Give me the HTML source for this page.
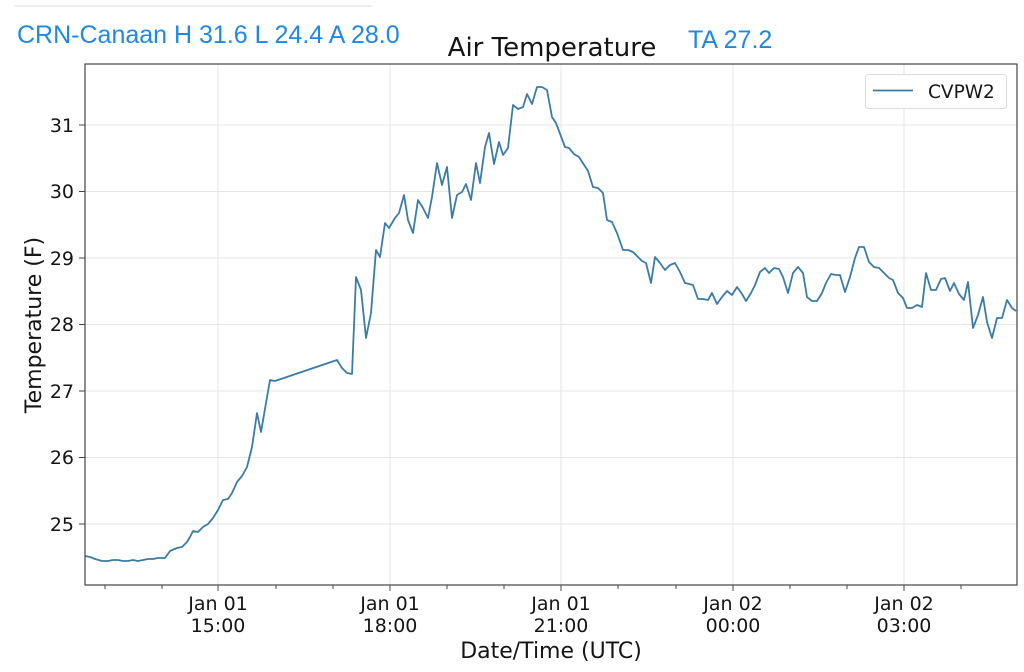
<!DOCTYPE html>
<html><head><meta charset="utf-8"><style>
html,body{margin:0;padding:0;background:#fff;width:1024px;height:672px;overflow:hidden}
svg{display:block}
text{font-family:"DejaVu Sans","Liberation Sans",sans-serif;fill:#151515}
</style></head><body>
<svg width="1024" height="672" viewBox="0 0 1024 672">
<line x1="14" y1="6" x2="373" y2="6" stroke="#eee" stroke-width="2"/>
<text x="17" y="43" style="fill:#1e88e5;font-family:'Liberation Sans',sans-serif" font-size="25">CRN-Canaan H 31.6 L 24.4 A 28.0</text>
<text x="688" y="48" style="fill:#1e88e5;font-family:'Liberation Sans',sans-serif" font-size="25">TA 27.2</text>
<text x="552" y="56" font-size="26" text-anchor="middle">Air Temperature</text>
<g stroke="#e6e6e6" stroke-width="1">
<line x1="218" y1="64" x2="218" y2="585"/><line x1="390" y1="64" x2="390" y2="585"/><line x1="561" y1="64" x2="561" y2="585"/><line x1="733" y1="64" x2="733" y2="585"/><line x1="904" y1="64" x2="904" y2="585"/>
<line x1="85" y1="125" x2="1017" y2="125"/><line x1="85" y1="191.5" x2="1017" y2="191.5"/><line x1="85" y1="258" x2="1017" y2="258"/><line x1="85" y1="324.5" x2="1017" y2="324.5"/><line x1="85" y1="391" x2="1017" y2="391"/><line x1="85" y1="457.5" x2="1017" y2="457.5"/><line x1="85" y1="524" x2="1017" y2="524"/>
</g>
<polyline fill="none" stroke="#3a7ca5" stroke-width="1.8" stroke-linejoin="round" points="85,556 90,557 95,559 102,561 108,561 113,560 118,560 123,561 128,561 133,560 138,561 143,560 148,559 153,559 158,558 163,558 165,558 170,551 177,548 182,547 187,542 190,537 193,531 198,532 203,527 208,524 213,518 218,510 223,500 228,499 232,493 237,482 242,476 247,467 252,447 257,413 261,432 270,380 275,381 337,360 342,368 347,373 352,374 356,277 361,290 366,338 371,313 376,250 380,257 385,223 389,228 395,218 399,213 404,195 408,220 413,233 418,200 423,208 428,218 432,197 437,163 442,185 447,167 452,218 457,195 462,192 466,184 471,200 476,163 480,183 485,147 489,133 494,164 499,142 503,155 508,148 513,105 518,109 523,107 527,94 532,104 537,87 542,87 547,90 552,117 556,123 565,147 569,148 574,154 579,157 588,171 593,187 598,188 603,193 607,220 612,222 617,233 623,250 628,250 633,252 637,256 642,261 646,263 651,283 655,257 660,263 665,270 670,265 675,263 680,272 685,283 689,284 693,285 698,299 703,299 708,300 712,293 717,304 722,297 727,291 732,295 737,287 742,294 746,301 751,293 755,285 760,272 765,268 769,273 774,268 779,269 783,277 788,293 793,273 798,267 803,273 807,297 812,301 817,301 822,293 826,283 831,274 836,275 840,275 845,292 850,277 855,258 859,247 864,247 869,262 874,267 879,268 884,273 889,278 893,280 898,293 903,298 907,308 912,308 917,305 922,307 926,273 931,290 936,290 941,279 945,278 950,291 954,283 959,294 964,300 968,282 973,328 978,315 983,297 987,322 992,338 997,318 1002,318 1007,300 1012,308 1016,311"/>
<rect x="85" y="64" width="932" height="521" fill="none" stroke="#444" stroke-width="1.2"/>
<g stroke="#444" stroke-width="1">
<line x1="218" y1="585" x2="218" y2="591"/><line x1="390" y1="585" x2="390" y2="591"/><line x1="561" y1="585" x2="561" y2="591"/><line x1="733" y1="585" x2="733" y2="591"/><line x1="904" y1="585" x2="904" y2="591"/>
<line x1="105" y1="585" x2="105" y2="589"/><line x1="162" y1="585" x2="162" y2="589"/><line x1="276" y1="585" x2="276" y2="589"/><line x1="333" y1="585" x2="333" y2="589"/><line x1="447" y1="585" x2="447" y2="589"/><line x1="504" y1="585" x2="504" y2="589"/><line x1="618" y1="585" x2="618" y2="589"/><line x1="676" y1="585" x2="676" y2="589"/><line x1="790" y1="585" x2="790" y2="589"/><line x1="847" y1="585" x2="847" y2="589"/><line x1="961" y1="585" x2="961" y2="589"/>
<line x1="79" y1="125" x2="85" y2="125"/><line x1="79" y1="191.5" x2="85" y2="191.5"/><line x1="79" y1="258" x2="85" y2="258"/><line x1="79" y1="324.5" x2="85" y2="324.5"/><line x1="79" y1="391" x2="85" y2="391"/><line x1="79" y1="457.5" x2="85" y2="457.5"/><line x1="79" y1="524" x2="85" y2="524"/>
</g>
<g font-size="19" text-anchor="end">
<text x="74" y="132">31</text><text x="74" y="198">30</text><text x="74" y="265">29</text><text x="74" y="331">28</text><text x="74" y="398">27</text><text x="74" y="464">26</text><text x="74" y="531">25</text>
</g>
<g font-size="19" text-anchor="middle">
<text x="218" y="610">Jan 01</text><text x="218" y="632">15:00</text>
<text x="390" y="610">Jan 01</text><text x="390" y="632">18:00</text>
<text x="561" y="610">Jan 01</text><text x="561" y="632">21:00</text>
<text x="733" y="610">Jan 02</text><text x="733" y="632">00:00</text>
<text x="904" y="610">Jan 02</text><text x="904" y="632">03:00</text>
<text x="551" y="658" font-size="22">Date/Time (UTC)</text>
<text transform="translate(41,325) rotate(-90)" font-size="22">Temperature (F)</text>
</g>
<rect x="865.5" y="74.5" width="141" height="34" rx="3" fill="#fff" stroke="#ddd"/>
<line x1="873" y1="90.5" x2="913" y2="90.5" stroke="#3a7ca5" stroke-width="1.8"/>
<text x="928" y="98" font-size="18.5">CVPW2</text>
</svg>
</body></html>
